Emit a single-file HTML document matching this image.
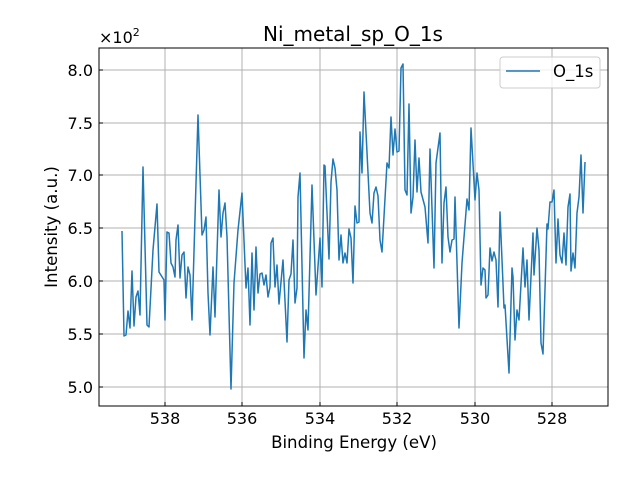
<!DOCTYPE html>
<html><head><style>body{margin:0;background:#fff}svg{display:block;font-family:"DejaVu Sans","Liberation Sans",sans-serif}</style></head>
<body>
<svg width="640" height="480" viewBox="0 0 640 480" xmlns="http://www.w3.org/2000/svg">
<rect width="640" height="480" fill="#fff"/>
<g stroke="#b0b0b0" stroke-width="1">
<line x1="165" y1="48" x2="165" y2="406"/><line x1="242" y1="48" x2="242" y2="406"/><line x1="320" y1="48" x2="320" y2="406"/><line x1="397" y1="48" x2="397" y2="406"/><line x1="475" y1="48" x2="475" y2="406"/><line x1="552" y1="48" x2="552" y2="406"/>
<line x1="99" y1="70" x2="608" y2="70"/><line x1="99" y1="123" x2="608" y2="123"/><line x1="99" y1="175" x2="608" y2="175"/><line x1="99" y1="228" x2="608" y2="228"/><line x1="99" y1="281" x2="608" y2="281"/><line x1="99" y1="334" x2="608" y2="334"/><line x1="99" y1="387" x2="608" y2="387"/>
</g>
<polyline fill="none" stroke="#1f77b4" stroke-width="1.5" stroke-linejoin="round" points="122,231 124,336 126,335 128,311 130,328 132,271 134,326 136,297 138,291 140,315 143,167 147,325 149,327 153,250 157,204 159,272 164,280 165,320 167,232 169,233 171,263 173,267 175,277 176,240 178,225 180,278 182,255 184,252 186,298 188,267 190,275 192,320 198,115 202,235 204,230 206,217 208,293 210,335 213,267 215,317 219,190 221,237 223,213 225,203 227,237 231,389 234,283 238,230 242,193 246,288 248,268 250,325 252,253 254,310 256,247 258,293 260,274 262,273 264,285 266,275 268,297 270,287 271,243 273,238 275,287 277,265 279,304 283,260 287,342 289,280 291,274 293,240 295,303 297,288 298,197 300,173 304,358 306,310 308,330 312,185 316,295 320,238 322,287 324,165 325,166 329,259 331,182 333,159 335,168 337,190 339,260 341,235 343,263 345,253 347,263 349,229 351,238 353,283 355,206 357,223 359,222 360,132 362,173 364,92 370,213 372,223 374,193 376,187 378,196 380,240 382,252 387,163 389,168 391,117 393,155 395,129 397,152 399,151 401,68 403,64 405,190 407,195 409,104 411,213 413,197 415,140 417,192 419,158 421,192 425,207 428,243 430,149 434,268 436,163 440,133 442,263 444,203 446,187 448,237 450,252 452,240 454,239 455,197 459,328 462,263 467,199 469,210 471,128 475,200 477,173 479,190 481,285 483,268 485,270 486,298 488,295 490,248 492,261 494,252 496,260 498,307 500,212 504,308 505,305 509,373 512,268 513,277 515,340 517,310 519,320 523,248 525,287 527,260 529,320 533,233 534,275 537,228 539,250 541,343 543,354 547,224 548,229 550,202 552,202 554,190 556,263 558,219 560,255 562,263 564,233 566,265 568,207 570,194 571,271 573,253 575,268 577,213 579,197 581,155 583,213 585,162"/>
<rect x="99" y="48" width="509" height="358" fill="none" stroke="#000" stroke-width="1"/>
<g stroke="#000" stroke-width="1">
<line x1="165" y1="406" x2="165" y2="402"/><line x1="242" y1="406" x2="242" y2="402"/><line x1="320" y1="406" x2="320" y2="402"/><line x1="397" y1="406" x2="397" y2="402"/><line x1="475" y1="406" x2="475" y2="402"/><line x1="552" y1="406" x2="552" y2="402"/>
<line x1="99" y1="70" x2="103" y2="70"/><line x1="99" y1="123" x2="103" y2="123"/><line x1="99" y1="175" x2="103" y2="175"/><line x1="99" y1="228" x2="103" y2="228"/><line x1="99" y1="281" x2="103" y2="281"/><line x1="99" y1="334" x2="103" y2="334"/><line x1="99" y1="387" x2="103" y2="387"/>
</g>
<g font-size="16" fill="#000" text-anchor="middle">
<text x="165" y="424">538</text><text x="242" y="424">536</text><text x="320" y="424">534</text><text x="397" y="424">532</text><text x="475" y="424">530</text><text x="552" y="424">528</text>
</g>
<g font-size="16" fill="#000" text-anchor="end">
<text x="93" y="76">8.0</text><text x="93" y="129">7.5</text><text x="93" y="181">7.0</text><text x="93" y="234">6.5</text><text x="93" y="287">6.0</text><text x="93" y="340">5.5</text><text x="93" y="393">5.0</text>
</g>
<text x="99" y="43" font-size="16">×10<tspan font-size="11" dy="-7">2</tspan></text>
<text x="353" y="41" font-size="20" text-anchor="middle">Ni_metal_sp_O_1s</text>
<text x="354" y="448" font-size="16.6" text-anchor="middle">Binding Energy (eV)</text>
<text transform="translate(57,227) rotate(-90)" font-size="16.6" text-anchor="middle">Intensity (a.u.)</text>
<rect x="500" y="57" width="100" height="31" rx="3" fill="#fff" fill-opacity="0.8" stroke="#ccc"/>
<line x1="506" y1="71" x2="540" y2="71" stroke="#1f77b4" stroke-width="1.5"/>
<text x="553" y="77" font-size="16.5">O_1s</text>
</svg>
</body></html>
